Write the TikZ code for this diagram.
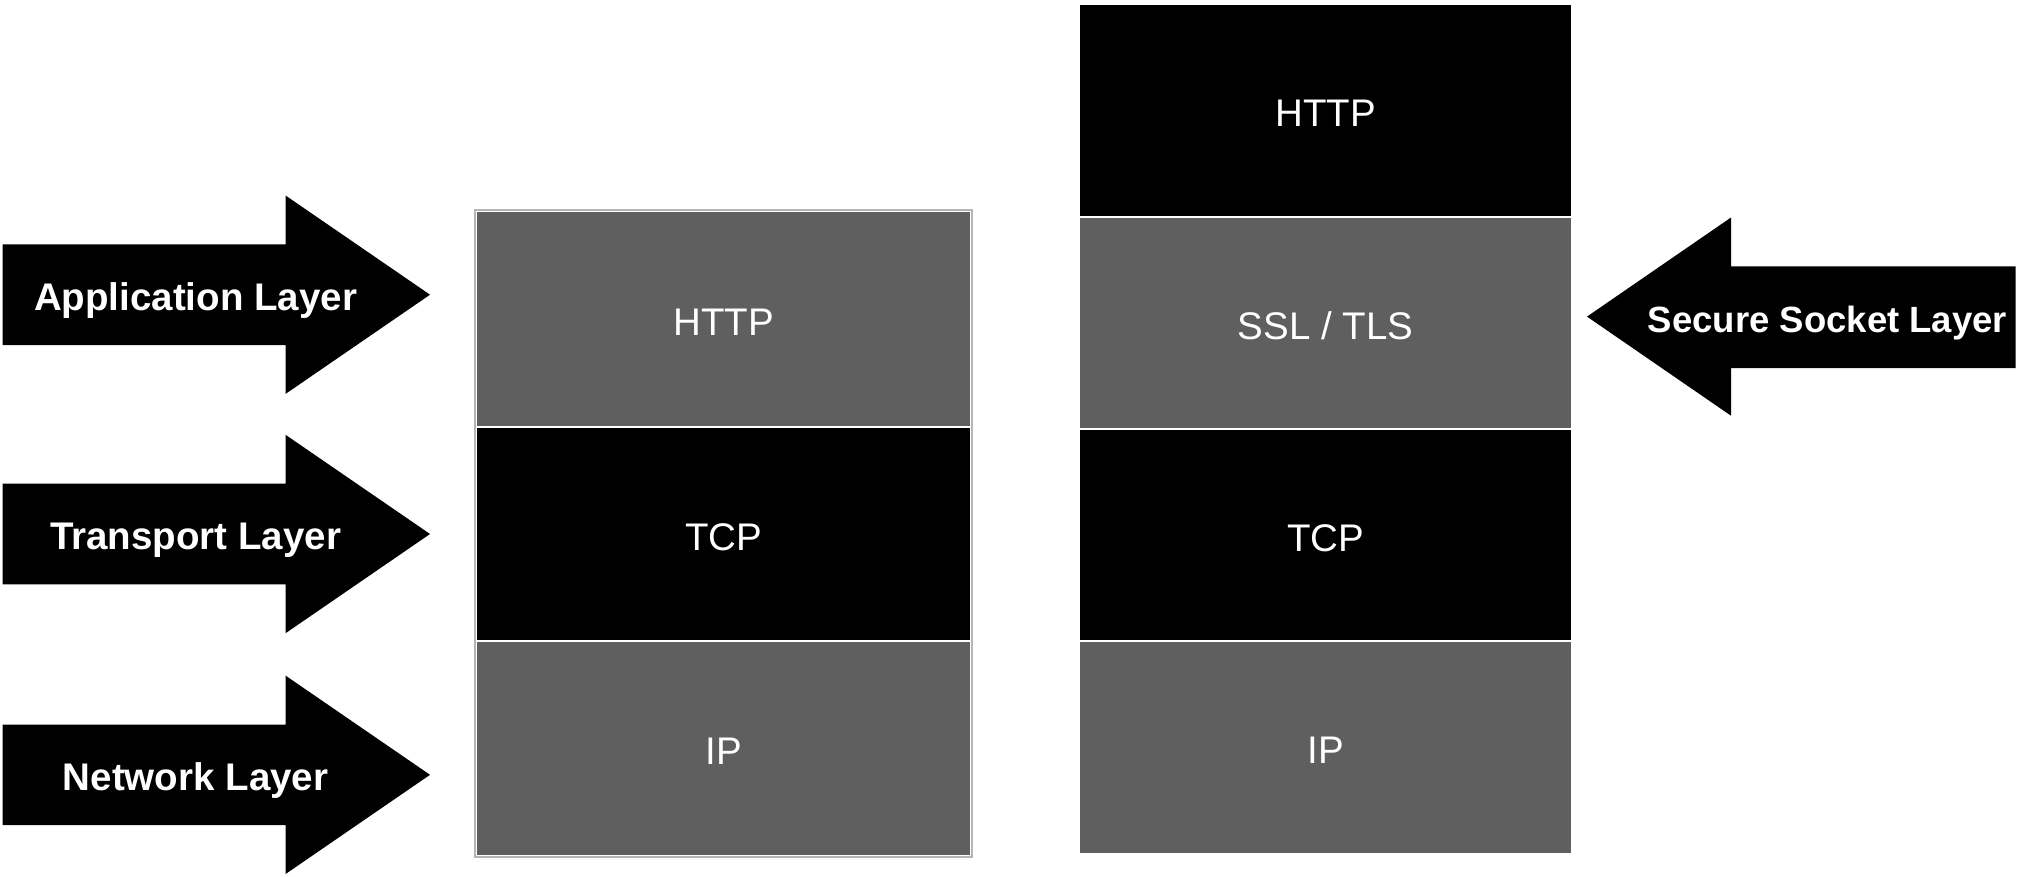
\documentclass[tikz,border=0pt]{standalone}
\usepackage{fontspec}
\setmainfont{Liberation Sans}
\definecolor{dgray}{HTML}{5F5F5F}
\definecolor{lgray}{HTML}{B5B5B5}
\tikzset{
  layerbox/.style={rectangle, anchor=north west, inner sep=0pt, draw=white, line width=2pt, text=white,
    font=\fontsize{38.5}{44}\selectfont},
  darkbox/.style={layerbox, fill=black},
  graybox/.style={layerbox, fill=dgray},
  boxlabel/.style={text=white, font=\fontsize{38.5}{44}\selectfont, yshift=-3pt},
  bigarrow/.style={fill=black, draw=none},
  arrowtext/.style={text=white, inner sep=0pt, font=\bfseries\fontsize{38.5}{44}\selectfont},
}
\begin{document}
\begin{tikzpicture}[x=1pt,y=-1pt]
\useasboundingbox (0,0) rectangle (2018,876);
% left stack
\node[graybox, minimum width=495pt, minimum height=216pt] (lhttp) at (475,210) {};
\node[boxlabel] (lhttpt) at (lhttp.center) {HTTP};
\node[darkbox, minimum width=495pt, minimum height=214pt] (ltcp) at (475,426) {};
\node[boxlabel] (ltcpt) at (ltcp.center) {TCP};
\node[graybox, minimum width=495pt, minimum height=215pt] (lip) at (475,640) {};
\node[boxlabel] (lipt) at (lip.center) {IP};
\draw[lgray, line width=1.5pt] (lhttp.north west) rectangle (lip.south east);
% right stack
\node[darkbox, minimum width=493pt, minimum height=213pt] (rhttp) at (1078,3) {};
\node[boxlabel] (rhttpt) at (rhttp.center) {HTTP};
\node[graybox, minimum width=493pt, minimum height=212pt] (rssl) at (1078,216) {};
\node[boxlabel] (rsslt) at (rssl.center) {SSL / TLS};
\node[darkbox, minimum width=493pt, minimum height=212pt] (rtcp) at (1078,428) {};
\node[boxlabel] (rtcpt) at (rtcp.center) {TCP};
\node[graybox, minimum width=493pt, minimum height=213pt] (rip) at (1078,640) {};
\node[boxlabel] (ript) at (rip.center) {IP};
% left arrows
\foreach \yc/\nm/\txt in {294.7/app/Application Layer, 534/trans/Transport Layer, 774.8/net/Network Layer}{
  \fill[bigarrow] (2.6,\yc-50.3) -- (285.7,\yc-50.3) -- (285.7,\yc-99.1) -- (430,\yc)
     -- (285.7,\yc+99.1) -- (285.7,\yc+50.3) -- (2.6,\yc+50.3) -- cycle;
  \node[arrowtext] (\nm) at (195.6,\yc+6) {\txt};
}
% right arrow
\fill[bigarrow] (2015.5,266.4) -- (1731,266.4) -- (1731,217.5) -- (1587,316.6)
   -- (1731,415.7) -- (1731,368) -- (2015.5,368) -- cycle;
\node[arrowtext, font=\bfseries\fontsize{36.5}{42}\selectfont] (ssl) at (1827.5,323) {Secure Socket Layer};
\end{tikzpicture}
\end{document}
